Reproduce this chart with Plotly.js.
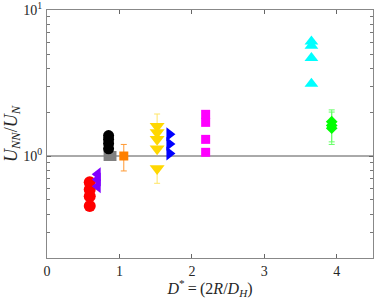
<!DOCTYPE html>
<html>
<head>
<meta charset="utf-8">
<script src="https://cdn.plot.ly/plotly-3.0.1.min.js"></script>
<style>html,body{margin:0;padding:0;background:#fff}#chart{width:374px;height:299px}</style>
</head>
<body>
<div id="chart"></div>
<script>
// Data
const redX = [0.59, 0.59, 0.59, 0.59];
const redY = [0.66, 0.59, 0.53, 0.455];
const purpleX = [0.70, 0.70, 0.70];
const purpleY = [0.75, 0.69, 0.62];
const blackX = [0.85, 0.85, 0.85, 0.85];
const blackY = [1.38, 1.30, 1.22, 1.12];
const grayX = [0.85, 0.89];
const grayY = [1.0, 1.0];
const orangeX = [1.06];
const orangeY = [1.0];
const orangeErrPlus = [0.2];
const orangeErrMinus = [0.21];
const yellowX = [1.52, 1.52, 1.52, 1.52, 1.52];
const yellowY = [1.60, 1.45, 1.30, 1.12, 0.82];
const yellowErrPlus = [0.34, 0, 0, 0, 0];
const yellowErrMinus = [0, 0, 0, 0, 0.17];
const blueX = [1.69, 1.69, 1.69];
const blueY = [1.41, 1.21, 1.04];
const magentaX = [2.19, 2.19, 2.19, 2.19];
const magentaY = [1.93, 1.70, 1.30, 1.06];
const cyanX = [3.65, 3.65, 3.65, 3.65];
const cyanY = [6.1, 5.7, 4.7, 3.13];
const greenX = [3.93, 3.93, 3.93];
const greenY = [1.72, 1.62, 1.55];
const greenErrPlus = [0.35, 0, 0.45];
const greenErrMinus = [0.47, 0, 0.35];
const xTicks = [0, 1, 2, 3, 4];
const yTicks = [1, 10];
const yTickText = ['10<sup>0</sup>', '10<sup>1</sup>'];
const yMinor = [0.2,0.3,0.4,0.5,0.6,0.7,0.8,0.9,2,3,4,5,6,7,8,9];

function sc(x, y, color, symbol, size, err) {
  const t = {x: x, y: y, type: 'scatter', mode: 'markers',
    marker: {color: color, symbol: symbol, size: size, line: {width: 0}},
    hoverinfo: 'skip', showlegend: false};
  if (err) {
    t.error_y = {type: 'data', symmetric: false, array: err[0], arrayminus: err[1],
      color: err[2], thickness: 1, width: 3};
  }
  return t;
}

const data = [
  sc(yellowX, yellowY, '#FFD700', 'triangle-down', 13, [yellowErrPlus, yellowErrMinus, '#FFE566']),
  sc(greenX, greenY, '#00FF00', 'diamond', 9, [greenErrPlus, greenErrMinus, '#66FF66']),
  sc(orangeX, orangeY, '#FF8000', 'square', 9, [orangeErrPlus, orangeErrMinus, '#FF9933']),
  sc(redX, redY, '#FF0000', 'circle', 12),
  sc(purpleX, purpleY, '#8000FF', 'triangle-left', 12),
  sc(grayX, grayY, '#808080', 'square', 10),
  sc(blackX, blackY, '#000000', 'circle', 11),
  sc(blueX, blueY, '#0000FF', 'triangle-right', 12),
  sc(magentaX, magentaY, '#FF00FF', 'square', 9),
  sc(cyanX, cyanY, '#00FFFF', 'triangle-up', 12)
];

const FAM = 'Liberation Serif';
const font = {family: FAM, size: 14, color: '#262626'};

const layout = {
  width: 374, height: 299,
  margin: {l: 47, r: 1, t: 10, b: 41},
  paper_bgcolor: '#fff', plot_bgcolor: '#fff',
  font: font,
  showlegend: false,
  xaxis: {
    range: [0, 4.5], tickvals: xTicks, ticktext: xTicks.map(String),
    ticks: 'inside', ticklen: 4, tickcolor: '#666', tickwidth: 1,
    showline: true, linecolor: '#888', linewidth: 1, mirror: 'ticks',
    showgrid: false, zeroline: false,
    tickfont: {family: FAM, size: 14, color: '#262626'},
    title: {text: '<i>D</i><sup>*</sup>\u2009=\u2009(2<i>R</i>/<i>D</i><sub><i>H</i></sub>)',
      font: {family: FAM, size: 16, color: '#262626'}, standoff: 3}
  },
  yaxis: {
    type: 'log', range: [Math.log10(0.2), 1.0005],
    tickvals: yTicks, ticktext: yTickText,
    ticklabeloverflow: 'allow', ticklabelstandoff: 1,
    ticks: 'inside', ticklen: 4, tickcolor: '#666', tickwidth: 1,
    minor: {tickvals: yMinor, ticks: 'inside', ticklen: 3, tickcolor: '#777', showgrid: false},
    showline: true, linecolor: '#888', linewidth: 1, mirror: 'ticks',
    showgrid: false, zeroline: false,
    tickfont: {family: FAM, size: 14, color: '#262626'},
    title: {text: '<i>U</i><sub><i>NN</i></sub>/<i>U</i><sub><i>N</i></sub>',
      font: {family: FAM, size: 18, color: '#262626'}, standoff: 0}
  },
  shapes: [{type: 'line', xref: 'paper', x0: 0, x1: 1, yref: 'y', y0: 1, y1: 1,
    line: {color: '#555', width: 1}, layer: 'below'}]
};

Plotly.newPlot('chart', data, layout, {displayModeBar: false, staticPlot: true});
</script>
</body>
</html>
